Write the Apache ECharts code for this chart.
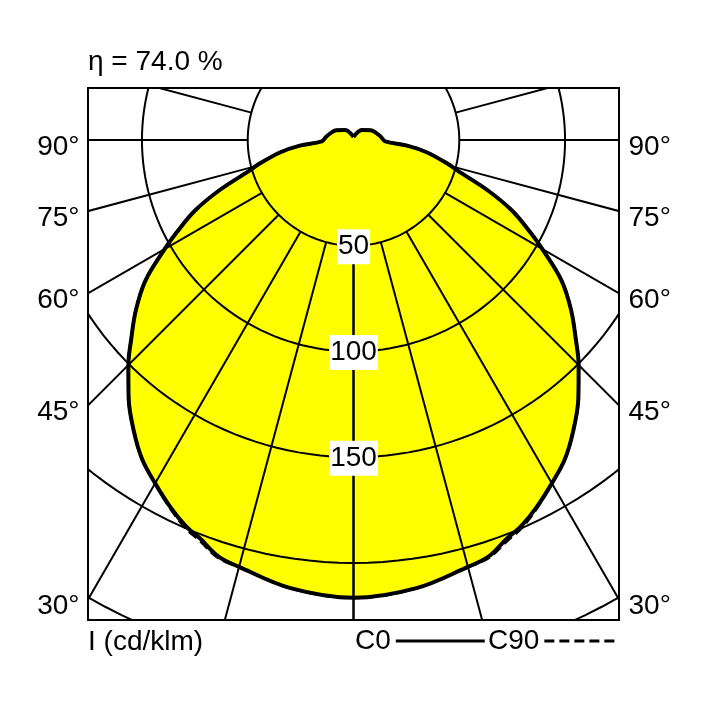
<!DOCTYPE html>
<html>
<head>
<meta charset="utf-8">
<script src="https://cdn.jsdelivr.net/npm/echarts@6/dist/echarts.min.js"></script>
<style>
  html, body { margin: 0; padding: 0; background: #fff; }
  #chart { width: 708px; height: 708px; }
</style>
</head>
<body>
<div id="chart"></div>
<script>
// luminous intensity, cd/klm (gamma 0 = straight down)
const gammaDeg = [0, 8, 15, 18, 21, 23.5, 26.5, 30, 33.5, 37, 41, 45, 48, 52, 56,
  60, 62.5, 66, 69.5, 73.5, 76, 80.5, 84, 87.5, 94, 101, 120, 140, 180];
const c0Values = [216.5, 214, 209, 207, 202, 199, 194, 187.5, 181, 172.5, 162, 150.5, 141.5, 130.5, 118.5,
  103, 94, 82, 67.5, 51.5, 45.5, 35, 25.5, 15, 13.5, 12.3, 9.3, 6.2, 1.5];
const c90Values = [216.5, 214, 209, 207.6, 202.9, 199.8, 194.4, 187.5, 181, 172.5, 162, 150.5, 141.5, 130.5, 118.5,
  103, 94, 82, 67.5, 51.5, 45.5, 35, 25.5, 15, 13.5, 12.3, 9.3, 6.2, 1.5];

const ringValues = [50, 100, 150, 200, 250];
const ringLabels = [50, 100, 150];
const sideAngles = [90, 75, 60, 45, 30];
const radialStep = 15;

const X_MAX = 125.5;
const Y_MIN = -227;
const Y_MAX = 24.6;
const SMOOTH = 0.35;
const FONT = '"Liberation Sans", Arial, sans-serif';

// polar -> cartesian, side -1 = left half, +1 = right half
const pt = (r, g, side) => {
  const a = g * Math.PI / 180;
  return [side * r * Math.sin(a), -r * Math.cos(a)];
};

const buildOutline = (vals) => {
  const left = gammaDeg.map((g, i) => pt(vals[i], g, -1)).reverse();
  const right = gammaDeg.map((g, i) => pt(vals[i], g, 1)).slice(1);
  return left.concat(right);
};

const buildGrid = () => {
  const items = [];
  ringValues.forEach((r) => {
    const coords = [];
    for (let a = 0; a <= 360; a += 2) coords.push(pt(r, a, 1));
    items.push({ coords });
  });
  for (let g = 0; g <= 180; g += radialStep) {
    [-1, 1].forEach((s) => {
      items.push({ coords: [pt(ringValues[0], g, s), pt(600, g, s)] });
    });
  }
  return items;
};

const sideLabelData = (side) =>
  sideAngles.map((g) => ({
    value: [side * X_MAX, -X_MAX / Math.tan(g * Math.PI / 180)],
    name: g + '°'
  }));

const getOption = () => {
  const c0 = buildOutline(c0Values);
  const c90 = buildOutline(c90Values);
  const labelBase = { fontFamily: FONT, fontSize: 28, color: '#000' };
  const hidden = { color: 'transparent', opacity: 1 };

  return {
    animation: false,
    backgroundColor: '#fff',
    title: [
      { text: 'η = 74.0 %', left: 88, top: 47, padding: 0,
        textStyle: { ...labelBase, fontWeight: 'normal', lineHeight: 30 } },
      { text: 'I (cd/klm)', left: 88, top: 627, padding: 0,
        textStyle: { ...labelBase, fontWeight: 'normal', lineHeight: 30 } }
    ],
    legend: [
      { data: ['C0'], left: 355, top: 626, padding: 0, align: 'right',
        itemWidth: 89, itemHeight: 14, selectedMode: false,
        itemStyle: { opacity: 0 },
        lineStyle: { width: 3, color: '#000' }, textStyle: { ...labelBase, lineHeight: 30 } },
      { data: ['C90'], left: 488, top: 626, padding: 0, align: 'right',
        itemWidth: 74, itemHeight: 14, selectedMode: false,
        itemStyle: { opacity: 0 },
        lineStyle: { width: 3, color: '#000', type: [10, 5] }, textStyle: { ...labelBase, lineHeight: 30 } }
    ],
    grid: {
      left: 88, right: 89, top: 88, bottom: 88,
      show: true, borderColor: '#000', borderWidth: 2, backgroundColor: '#fff'
    },
    xAxis: { type: 'value', min: -X_MAX, max: X_MAX, show: false },
    yAxis: { type: 'value', min: Y_MIN, max: Y_MAX, show: false },
    series: [
      {
        type: 'custom',
        z: 1,
        silent: true,
        data: c0,
        renderItem: (params, api) => {
          if (params.dataIndex !== 0) return;
          const points = c0.map((p) => api.coord(p));
          return { type: 'polygon', shape: { points, smooth: SMOOTH }, style: { fill: '#ffff00' } };
        }
      },
      {
        type: 'lines',
        coordinateSystem: 'cartesian2d',
        polyline: true,
        clip: true,
        silent: true,
        z: 2,
        lineStyle: { color: '#000', width: 2, opacity: 1 },
        data: buildGrid()
      },
      {
        name: 'C90',
        type: 'line',
        z: 3,
        data: c90,
        symbol: 'none',
        smooth: SMOOTH,
        clip: true,
        itemStyle: { color: '#000' },
        lineStyle: { color: '#000', width: 3, type: [10, 5] }
      },
      {
        name: 'C0',
        type: 'line',
        z: 4,
        data: c0,
        symbol: 'none',
        smooth: SMOOTH,
        clip: true,
        itemStyle: { color: '#000' },
        lineStyle: { color: '#000', width: 4 }
      },
      {
        type: 'scatter',
        z: 5,
        silent: true,
        clip: false,
        symbolSize: 1,
        itemStyle: hidden,
        data: ringLabels.map((v) => ({ value: [0, -v], name: String(v) })),
        label: {
          show: true, position: 'inside', formatter: '{b}', offset: [0, 1],
          backgroundColor: '#fff', padding: [3, 1, 2, 1], lineHeight: 30, ...labelBase
        }
      },
      {
        type: 'scatter',
        z: 5,
        silent: true,
        clip: false,
        symbolSize: 1,
        itemStyle: hidden,
        data: sideLabelData(-1),
        label: { show: true, position: 'left', distance: 8, offset: [0, 7], formatter: '{b}', ...labelBase }
      },
      {
        type: 'scatter',
        z: 5,
        silent: true,
        clip: false,
        symbolSize: 1,
        itemStyle: hidden,
        data: sideLabelData(1),
        label: { show: true, position: 'right', distance: 9, offset: [0, 7], formatter: '{b}', ...labelBase }
      }
    ]
  };
};

const initChart = () => {
  const chart = echarts.init(document.getElementById('chart'));
  chart.setOption(getOption());
};

window.addEventListener('load', () => {
  initChart();
});
</script>
</body>
</html>
